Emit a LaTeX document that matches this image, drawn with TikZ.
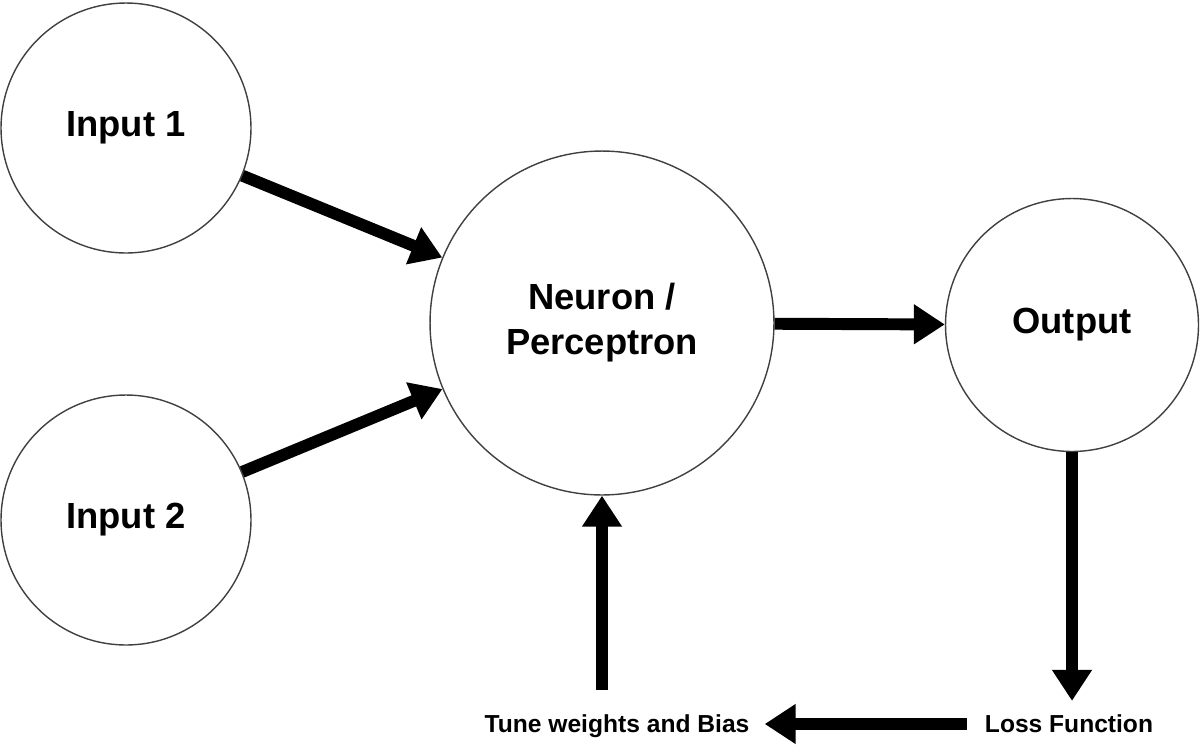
\documentclass[tikz,border=0pt]{standalone}
\usepackage{fontspec}
\setmainfont{Liberation Sans}
\usetikzlibrary{arrows.meta}

\begin{document}
\begin{tikzpicture}[x=0.02cm,y=-0.02cm,
    unit/.style={circle,draw=black!75,line width=0.8pt,align=center,
      font=\fontsize{20.7}{25.6}\selectfont\bfseries},
    flow/.style={line width=6.8pt,-{Triangle[length=0.62cm,width=0.76cm]}},
    note/.style={inner sep=0pt,text height=10pt,text depth=0pt,
      font=\fontsize{14}{17}\selectfont\bfseries}]
    \useasboundingbox (0,0) rectangle (1200,751);
    % units
    \node[unit,minimum size=5cm] (in1) at (126,128) {Input 1};
    \node[unit,minimum size=5cm] (in2) at (126,520) {Input 2};
    \node[unit,minimum size=6.88cm] (neu) at (602,323) {Neuron /\\Perceptron};
    \node[unit,minimum size=5.06cm] (out) at (1072,325) {Output};
    % labels
    \node[note] (loss) at (1069,724) {Loss Function};
    \node[note] (tune) at (617,724) {Tune weights and Bias};
    % connectors
    \draw[flow] (in1) -- (neu);
    \draw[flow] (in2) -- (neu);
    \draw[flow] (neu) -- (out);
    \draw[flow,shorten >=0.28cm] (out.south) -- (out.south |- loss.north);
    \draw[flow,shorten <=0.36cm,shorten >=0.3cm] (loss.west) -- (tune.east);
    \draw[flow,shorten <=0.5cm] (neu.south |- tune.north) -- (neu.south);
\end{tikzpicture}
\end{document}
